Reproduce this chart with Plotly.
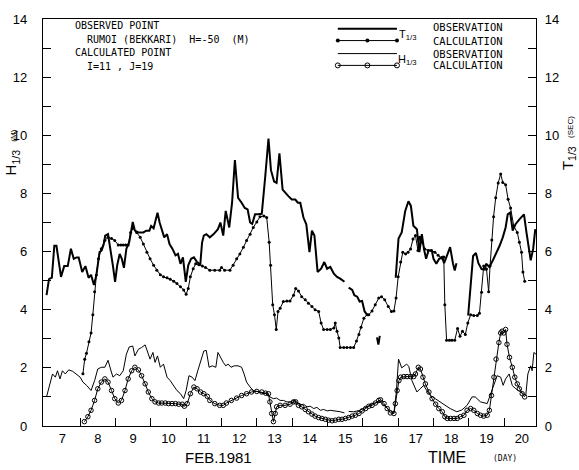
import plotly.graph_objects as go

# ---------------- data (day of Feb 1981, value) ----------------
t_obs_day = [7.05, 7.12, 7.2, 7.27, 7.33, 7.4, 7.46, 7.55, 7.65, 7.74, 7.82, 7.9, 7.96, 8.06, 8.15, 8.24,
             8.31, 8.39, 8.46, 8.55, 8.61, 8.67, 8.71, 8.79, 8.86, 8.93, 8.99, 9.05, 9.12, 9.18, 9.24, 9.31,
             9.39, 9.49, 9.55, 9.65, 9.79, 9.87, 9.96, 10.01, 10.08, 10.14, 10.19, 10.25, 10.31, 10.38, 10.46,
             10.53, 10.61, 10.7, 10.77, 10.84, 10.91, 10.99, 11.06, 11.14, 11.22, 11.31, 11.4, 11.45, 11.5,
             11.57, 11.67, 11.78, 11.9, 11.97, 12.05, 12.12, 12.22, 12.3, 12.38, 12.47, 12.57, 12.66, 12.74,
             12.81, 12.87, 12.95, 13.04, 13.14, 13.24, 13.33, 13.4, 13.49, 13.56, 13.64, 13.73, 13.8, 13.9,
             13.99, 14.09, 14.16, 14.23, 14.32, 14.4, 14.49, 14.56, 14.63, 14.72, 14.82, 14.91, 14.99, 15.08,
             15.18, 15.27, 15.36, 15.48, None, 15.6, 15.7, 15.76, 15.84, 15.91, 15.98, 16.05, 16.12, None,
             16.40, 16.44, 16.48, None, 16.93, 17.01, 17.1, 17.2, 17.29, 17.36, 17.43, 17.53, 17.6, 17.67,
             17.73, 17.79, 17.86, 17.95, 18.0, 18.08, 18.16, 18.24, 18.3, 18.38, 18.47, 18.55, 18.6, 18.65,
             None, 18.98, 19.05, 19.12, 19.2, 19.27, 19.36, 19.45, 19.49, 19.58, 19.68, 19.77, 19.87, 19.96,
             20.04, 20.1, 20.17, 20.24, 20.32, 20.43, 20.56, 20.63, 20.7, 20.75, 20.82, 20.88]
t_obs_sec = [4.5, 5.05, 5.1, 6.2, 6.2, 5.6, 5.13, 5.5, 5.5, 6.1, 5.75, 5.8, 5.8, 5.3, 5.5, 5.1,
             5.2, 4.85, 5.19, 5.98, 6.04, 6.26, 6.55, 6.6, 6.1, 5.5, 4.96, 5.53, 5.92, 5.75, 5.44, 6.1,
             6.32, 7.02, 6.72, 6.66, 6.66, 6.72, 6.72, 6.88, 6.8, 7.1, 7.34, 7.0, 6.77, 6.49, 6.6,
             6.26, 6.1, 5.87, 5.92, 5.58, 5.8, 4.96, 5.53, 5.75, 5.8, 5.64, 5.55, 6.3, 6.55,
             6.6, 6.49, 6.6, 6.77, 7.0, 6.55, 7.4, 6.83, 7.68, 9.15, 7.85, 7.68, 7.5, 7.45,
             7.0, 6.95, 7.28, 7.28, 7.3, 8.6, 9.89, 8.8, 8.41, 8.36, 9.38, 8.13, 8.02, 7.9,
             7.79, 7.79, 7.68, 7.68, 7.17, 6.94, 5.98, 6.72, 6.55, 5.3, 5.41, 5.64, 5.41, 5.47,
             5.24, 5.13, 5.07, 4.96, None, 4.76, 4.68, 4.5, 4.45, 4.28, 4.3, 3.94, 3.83, None,
             3.05, 2.8, 3.1, None, 5.1, 6.45, 6.66, 7.4, 7.73, 7.57, 6.89, 6.77, 5.98, 6.6,
             6.09, 5.75, 6.04, 6.04, 5.75, 5.58, 5.75, 5.81, 5.6, 5.85, 6.15, 5.6, 5.35, 5.6,
             None, 3.8, 5.0, 5.85, 5.95, 5.6, 5.4, 5.38, 5.58, 5.47, 5.7, 5.92, 6.2, 6.49,
             6.83, 7.28, 7.34, 6.72, 6.94, 7.11, 7.28, 6.66, 6.09, 5.7, 6.09, 6.77]

t_calc_day = [8.08, 8.13, 8.18, 8.25, 8.31, 8.36, 8.41, 8.46, 8.52, 8.6, 8.7, 8.79, 8.89, 8.98, 9.08, 9.15,
              9.22, 9.29, 9.36, 9.43, 9.5, 9.6, 9.7, 9.79, 9.89, 9.98, 10.08, 10.17, 10.27, 10.36, 10.46,
              10.55, 10.65, 10.74, 10.84, 10.93, 11.0, 11.06, 11.12, 11.2, 11.27, 11.36, 11.46, 11.55, 11.67,
              11.81, 11.95, 12.0, 12.09, 12.24, 12.33, 12.43, 12.52, 12.62, 12.71, 12.81, 12.9, 13.0, 13.09,
              13.2, 13.28, 13.35, 13.39, 13.45, 13.5, 13.55, 13.6, 13.66, 13.75, 13.85, 13.94, 14.04, 14.1,
              14.18, 14.27, 14.37, 14.46, 14.56, 14.65, 14.75, 14.82, 14.89, 14.99, 15.08, 15.18, 15.22,
              15.27, 15.32, 15.36, 15.46, 15.55, 15.65, 15.74, 15.82, 15.89, 15.95, 16.03, 16.12, 16.17,
              16.26, 16.35, 16.45, 16.53, 16.62, 16.72, 16.81, 16.88, 16.94, 17.0, 17.07, 17.13, 17.21,
              17.28, 17.35, 17.42, 17.49, 17.56, 17.61, 17.68, 17.75, 17.85, 17.94, 18.04, 18.13, 18.23,
              18.29, 18.32, 18.37, 18.45, 18.52, 18.6, 18.68, 18.75, 18.82, 18.9, 18.97, 19.05, 19.14,
              19.24, 19.3, 19.36, 19.42, 19.5, 19.56, 19.6, 19.65, 19.7, 19.76, 19.83, 19.9, 19.96, 20.04,
              20.11, 20.18, 20.27, 20.37, 20.43, 20.49, 20.53, 20.58]
t_calc_sec = [1.8, 2.3, 2.5, 2.9, 3.2, 3.83, 4.62, 5.19, 5.75, 6.1, 6.38, 6.49, 6.45, 6.38, 6.23, 6.23,
              6.23, 6.23, 6.23, 6.66, 6.8, 6.66, 6.49, 6.26, 5.98, 5.75, 5.53, 5.36, 5.2, 5.13, 5.1,
              5.05, 4.98, 4.9, 4.79, 4.68, 4.53, 4.73, 5.13, 5.41, 5.58, 5.55, 5.5, 5.45, 5.36,
              5.36, 5.36, 5.45, 5.36, 5.36, 5.53, 5.75, 5.92, 6.15, 6.38, 6.6, 6.83, 7.02, 7.2,
              7.22, 7.17, 6.32, 5.53, 4.17, 3.83, 3.32, 3.94, 4.05, 4.28, 4.3, 4.3, 4.5, 4.73,
              4.64, 4.45, 4.34, 4.22, 4.11, 4.0, 3.94, 3.54, 3.32, 3.32, 3.32, 3.37, 3.54,
              3.26, 3.03, 2.7, 2.7, 2.7, 2.7, 2.7, 2.92, 3.15, 3.4, 3.71, 3.83, 3.83,
              3.96, 4.17, 4.4, 4.45, 4.34, 4.11, 3.94, 3.96, 4.4, 5.13, 5.64, 5.98, 5.92,
              5.98, 6.09, 6.43, 6.55, 6.04, 6.49, 6.32, 6.09, 6.04, 6.04, 5.98, 5.87, 5.78,
              5.81, 4.17, 2.95, 2.95, 2.95, 2.95, 3.35, 3.09, 3.26, 3.15, 3.54, 3.83, 3.8,
              3.8, 3.88, 4.6, 5.5, 5.4, 4.62, 5.5, 6.4, 7.2, 7.85, 8.36, 8.67, 8.38, 8.3,
              7.8, 7.5, 6.88, 6.66, 6.32, 5.98, 5.3, 4.98]

h_obs_day = [7.05, 7.12, 7.22, 7.3, 7.36, 7.43, 7.5, 7.58, 7.68, 7.79, 7.9, 8.0, 8.08, 8.19, 8.31, 8.41,
             8.5, 8.6, 8.7, 8.79, 8.86, 8.93, 9.03, 9.12, 9.22, 9.31, 9.39, 9.49, 9.55, 9.65, 9.74, 9.84,
             9.9, 9.98, 10.06, 10.12, 10.19, 10.27, 10.36, 10.46, 10.55, 10.65, 10.74, 10.84, 10.93, 11.0,
             11.08, 11.17, 11.25, 11.33, 11.41, 11.5, 11.57, 11.65, 11.74, 11.84, 11.9, 11.97, 12.05, 12.12,
             12.19, 12.27, 12.36, 12.47, 12.57, 12.64, 12.71, 12.81, 12.9, 13.0, 13.09, 13.18, 13.28, 13.37,
             13.47, 13.56, 13.66, 13.75, 13.85, 13.94, 14.04, 14.13, 14.23, 14.32, 14.42, 14.51, 14.61, 14.7,
             14.8, 14.89, 14.99, 15.08, 15.18, 15.27, 15.36, 15.48, None, 15.6, 15.74, 15.92, 16.11, 16.3,
             16.49, 16.6, 16.75, 16.88, 16.95, 17.01, 17.1, 17.24, 17.3, 17.39, 17.53, 17.62, 17.72, 17.81,
             17.91, 18.05, 18.19, 18.33, 18.47, 18.66, 18.8, 18.95, 19.09, 19.18, 19.33, 19.52, 19.61, 19.71,
             19.8, 19.9, 19.97, 20.04, 20.14, 20.23, 20.33, 20.47, 20.61, 20.67, 20.75, 20.79, 20.84, 20.9]
h_obs_m = [1.0, 1.34, 1.79, 1.68, 1.9, 1.62, 1.9, 1.79, 1.93, 1.88, 1.79, 1.68, 1.51, 1.39, 1.22, 1.56,
           1.96, 2.02, 2.02, 2.26, 1.96, 1.68, 1.79, 1.73, 1.9, 2.47, 2.72, 2.75, 2.41, 2.64, 2.7, 2.79,
           2.58, 2.3, 2.53, 2.19, 2.41, 2.02, 2.13, 1.68, 1.56, 1.39, 1.22, 1.11, 0.94, 1.22,
           1.73, 1.68, 1.56, 1.9, 2.24, 2.58, 2.6, 2.02, 2.07, 2.02, 2.53, 2.36, 2.19, 2.07,
           2.13, 2.02, 2.07, 2.07, 2.02, 1.79, 1.51, 1.34, 1.22, 1.19, 1.17, 1.11, 1.13, 1.0,
           0.94, 0.96, 0.88, 0.88, 0.83, 0.83, 0.88, 0.83, 0.71, 0.75, 0.66, 0.68, 0.6, 0.64,
           0.54, 0.57, 0.52, 0.54, 0.52, 0.52, 0.49, 0.45, None, 0.5, 0.49, 0.54, 0.66, 0.78,
           0.83, 0.7, 0.55, 0.45, 1.2, 2.3, 2.0, 2.13, 2.05, 1.56, 1.17, 1.28, 1.39, 1.22,
           1.05, 0.94, 0.83, 0.71, 0.6, 0.49, 0.55, 0.71, 1.0, 1.0, 0.83, 0.77, 1.1, 1.45,
           1.73, 1.68, 1.4, 1.62, 1.79, 1.39, 1.28, 1.17, 1.05, 1.79, 2.07, 1.9, 2.53, 2.47]

h_calc_day = [8.12, 8.22, 8.31, 8.41, 8.5, 8.6, 8.7, 8.79, 8.89, 8.98, 9.08, 9.17, 9.27, 9.36, 9.46, 9.55,
              9.65, 9.74, 9.84, 9.93, 10.03, 10.12, 10.22, 10.31, 10.41, 10.5, 10.6, 10.7, 10.79, 10.89,
              10.95, 11.03, 11.12, 11.22, 11.31, 11.41, 11.5, 11.6, 11.67, 11.81, 11.95, 12.05, 12.14, 12.28,
              12.43, 12.57, 12.71, 12.85, 13.0, 13.14, 13.25, 13.33, 13.37, 13.42, 13.47, 13.52, 13.56,
              13.66, 13.8, 13.94, 14.04, 14.1, 14.18, 14.27, 14.37, 14.46, 14.56, 14.65, 14.75, 14.84,
              14.94, 15.03, 15.13, 15.22, 15.32, 15.41, 15.51, 15.6, 15.7, 15.79, 15.89, 15.98, 16.08,
              16.17, 16.26, 16.36, 16.45, 16.5, 16.6, 16.69, 16.78, 16.88, 16.92, 16.97, 17.02, 17.07,
              17.16, 17.25, 17.35, 17.44, 17.49, 17.57, 17.63, 17.7, 17.77, 17.87, 17.96, 18.06, 18.15,
              18.25, 18.32, 18.39, 18.48, 18.58, 18.67, 18.76, 18.86, 18.95, 19.05, 19.14, 19.24, 19.33,
              19.42, 19.52, 19.58, 19.64, 19.71, 19.77, 19.85, 19.9, 19.94, 19.99, 20.04, 20.08, 20.15,
              20.23, 20.3, 20.37, 20.43, 20.51, 20.58]
h_calc_m = [0.15, 0.32, 0.54, 0.88, 1.28, 1.51, 1.62, 1.51, 1.22, 0.94, 0.79, 0.88, 1.22, 1.62, 1.9, 2.02,
            1.93, 1.73, 1.45, 1.17, 0.94, 0.83, 0.79, 0.79, 0.79, 0.77, 0.77, 0.77, 0.75, 0.75,
            0.68, 0.77, 1.11, 1.34, 1.28, 1.17, 1.11, 1.02, 0.88, 0.77, 0.71, 0.71, 0.79, 0.88,
            0.96, 1.05, 1.11, 1.17, 1.19, 1.17, 1.13, 1.11, 0.83, 0.43, 0.15, 0.43, 0.66,
            0.71, 0.71, 0.75, 0.83, 0.83, 0.71, 0.66, 0.57, 0.49, 0.41, 0.34, 0.29, 0.26,
            0.23, 0.2, 0.18, 0.2, 0.23, 0.23, 0.26, 0.29, 0.34, 0.37, 0.43, 0.52, 0.6,
            0.68, 0.71, 0.79, 0.88, 0.9, 0.77, 0.6, 0.45, 0.43, 0.77, 1.22, 1.56, 1.68,
            1.7, 1.7, 1.7, 1.7, 1.79, 2.02, 1.96, 1.68, 1.45, 1.17, 0.94, 0.75, 0.6,
            0.49, 0.32, 0.26, 0.26, 0.26, 0.26, 0.32, 0.37, 0.54, 0.6, 0.54, 0.43, 0.37,
            0.34, 0.37, 0.54, 1.05, 1.68, 2.3, 2.87, 3.2, 3.26, 3.2, 3.32, 2.81, 2.36,
            2.02, 1.68, 1.45, 1.28, 1.11, 1.0]

day_labels = [str(d) for d in range(7, 21)]
day_label_pos = [d + 0.5 for d in range(7, 21)]
day_boundaries = list(range(8, 21))

# legend sample geometry (paper fractions)
legend_x = [0.598, 0.658, 0.718]
legend_y = [0.976, 0.947, 0.915, 0.886]

FONT = "Liberation Sans"
MONO = "DejaVu Sans Mono"
INK = "black"

fig = go.Figure()

fig.add_trace(go.Scatter(x=t_obs_day, y=t_obs_sec, yaxis="y2", mode="lines",
                         line=dict(color=INK, width=2), connectgaps=False, showlegend=False))
fig.add_trace(go.Scatter(x=t_calc_day, y=t_calc_sec, yaxis="y2", mode="lines+markers",
                         line=dict(color=INK, width=1), marker=dict(color=INK, size=3),
                         showlegend=False))
fig.add_trace(go.Scatter(x=h_obs_day, y=h_obs_m, mode="lines",
                         line=dict(color=INK, width=1), connectgaps=False, showlegend=False))
fig.add_trace(go.Scatter(x=h_calc_day, y=h_calc_m, mode="lines+markers",
                         line=dict(color=INK, width=1),
                         marker=dict(symbol="circle-open", color=INK, size=4.5, line=dict(width=1)),
                         showlegend=False))

# legend samples on a hidden overlay axis spanning the plot area
fig.add_trace(go.Scatter(x=[legend_x[0], legend_x[-1]], y=[legend_y[0]] * 2, xaxis="x3", yaxis="y3",
                         mode="lines", line=dict(color=INK, width=2), showlegend=False, hoverinfo="skip"))
fig.add_trace(go.Scatter(x=legend_x, y=[legend_y[1]] * 3, xaxis="x3", yaxis="y3",
                         mode="lines+markers", line=dict(color=INK, width=1),
                         marker=dict(color=INK, size=4), showlegend=False, hoverinfo="skip"))
fig.add_trace(go.Scatter(x=[legend_x[0], legend_x[-1]], y=[legend_y[2]] * 2, xaxis="x3", yaxis="y3",
                         mode="lines", line=dict(color=INK, width=1), showlegend=False, hoverinfo="skip"))
fig.add_trace(go.Scatter(x=legend_x, y=[legend_y[3]] * 3, xaxis="x3", yaxis="y3",
                         mode="lines+markers", line=dict(color=INK, width=1),
                         marker=dict(symbol="circle-open", color=INK, size=5, line=dict(width=1)),
                         showlegend=False, hoverinfo="skip"))

axis_common = dict(showgrid=False, zeroline=False, showline=True, linecolor=INK, linewidth=1.2,
                   tickfont=dict(family=FONT, size=13, color=INK))

fig.update_layout(
    width=579, height=470,
    margin=dict(l=43, r=43, t=14, b=44),
    paper_bgcolor="white", plot_bgcolor="white",
    showlegend=False,
    xaxis=dict(range=[6.95, 20.9], tickmode="array", tickvals=day_label_pos, ticktext=day_labels,
               ticks="", mirror=True,
               minor=dict(tickmode="array", tickvals=day_boundaries, ticks="inside", ticklen=8,
                          tickcolor=INK, tickwidth=1.2),
               **axis_common),
    yaxis=dict(range=[0, 14], tickmode="linear", tick0=0, dtick=2, ticks="inside", ticklen=8,
               tickcolor=INK, tickwidth=1.2, ticklabelstandoff=12,
               minor=dict(dtick=1, ticks="inside", ticklen=8, tickcolor=INK, tickwidth=1.2),
               **axis_common),
    yaxis2=dict(range=[0, 14], overlaying="y", side="right", tickmode="linear", tick0=0, dtick=2,
                ticks="inside", ticklen=8, tickcolor=INK, tickwidth=1.2, ticklabelstandoff=5,
                minor=dict(dtick=1, ticks="inside", ticklen=8, tickcolor=INK, tickwidth=1.2),
                **axis_common),
    xaxis3=dict(overlaying="x", range=[0, 1], visible=False, fixedrange=True),
    yaxis3=dict(overlaying="y", range=[0, 1], visible=False, fixedrange=True, anchor="x3"),
)

annots = [
    dict(text="OBSERVED POINT", x=0.061, y=0.983, xanchor="left", font=dict(family=MONO, size=10)),
    dict(text="RUMOI (BEKKARI)  H=-50  (M)", x=0.085, y=0.949, xanchor="left", font=dict(family=MONO, size=10)),
    dict(text="CALCULATED POINT", x=0.061, y=0.917, xanchor="left", font=dict(family=MONO, size=10)),
    dict(text="I=11 , J=19", x=0.085, y=0.883, xanchor="left", font=dict(family=MONO, size=10)),
    dict(text="OBSERVATION", x=0.787, y=0.981, xanchor="left", font=dict(family=MONO, size=10.5)),
    dict(text="CALCULATION", x=0.787, y=0.947, xanchor="left", font=dict(family=MONO, size=10.5)),
    dict(text="OBSERVATION", x=0.787, y=0.913, xanchor="left", font=dict(family=MONO, size=10.5)),
    dict(text="CALCULATION", x=0.787, y=0.886, xanchor="left", font=dict(family=MONO, size=10.5)),
    dict(text="T<sub>1/3</sub>", x=0.740, y=0.961, xanchor="center", font=dict(family=FONT, size=11)),
    dict(text="H<sub>1/3</sub>", x=0.740, y=0.900, xanchor="center", font=dict(family=FONT, size=11)),
    dict(text="H<sub>1/3</sub>  <span style='font-size:8px'>(M)</span>", x=-0.063, y=0.672,
         xanchor="center", textangle=-90, font=dict(family=FONT, size=15)),
    dict(text="T<sub>1/3</sub>  <span style='font-size:8px'>(SEC)</span>", x=1.066, y=0.694,
         xanchor="center", textangle=-90, font=dict(family=FONT, size=15)),
    dict(text="FEB.1981", x=0.355, y=-0.078, xanchor="center", font=dict(family=FONT, size=15)),
    dict(text="TIME", x=0.819, y=-0.078, xanchor="center", font=dict(family=FONT, size=16)),
    dict(text="(DAY)", x=0.937, y=-0.080, xanchor="center", font=dict(family=MONO, size=8)),
]
for a in annots:
    a.setdefault("yanchor", "middle")
    a["font"]["color"] = INK
    fig.add_annotation(xref="paper", yref="paper", showarrow=False, **a)

fig.write_html("out.html", config={"displayModeBar": False},
               post_script="document.body.style.margin='0';document.body.style.overflow='hidden';")
